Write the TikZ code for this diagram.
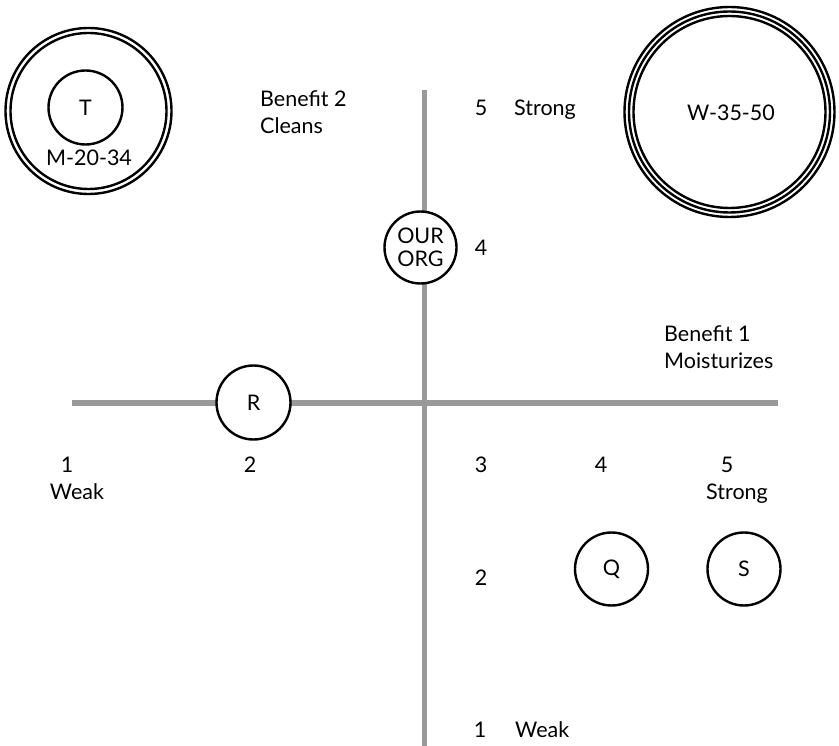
\documentclass[tikz,border=0pt]{standalone}
\usepackage{fontspec}
\setmainfont{Lato}
\begin{document}
\begin{tikzpicture}[x=1pt,y=-1pt,
  axis/.style={line width=5pt,color=black!40},
  ring/.style={circle,draw=black,line width=2.4pt,fill=white,inner sep=0pt},
  lbl/.style={inner sep=0pt,font=\fontsize{21.5}{23}\selectfont},
  lblw/.style={lbl,anchor=base west},
  lblc/.style={lbl,anchor=base}]
\useasboundingbox (0,0) rectangle (839,746);

% axes
\coordinate (vtop) at (424.5,90);
\coordinate (vbot) at (424.5,746);
\coordinate (hleft) at (72,403);
\coordinate (hright) at (778,403);
\draw[axis] (vtop) -- (vbot);
\draw[axis] (hleft) -- (hright);

% segment circles
\node[ring,minimum size=166pt] (touter) at (88.5,111) {};
\node[ring,minimum size=156pt] (tinner) at (88.5,111) {};
\node[ring,minimum size=74pt] (t) at (85.5,107.5) {};
\node[lbl] at (t) {T};
\node[lbl] (tlabel) at (89,158) {M-20-34};

\node[ring,minimum size=210pt] (wa) at (729.5,112) {};
\node[ring,minimum size=201pt] (wb) at (729.5,112) {};
\node[ring,minimum size=192pt] (wc) at (729.5,112) {};
\node[lbl] (w) at (731,113) {W-35-50};

\node[ring,minimum size=72pt,lbl,align=center,font=\fontsize{21.5}{23}\selectfont] (org) at (420.5,247.5) {OUR\\ORG};
\node[ring,minimum size=74pt,lbl] (r) at (253.5,402.5) {R};
\node[ring,minimum size=73pt,lbl] (q) at (611.5,569) {Q};
\node[ring,minimum size=73pt,lbl] (s) at (744,569) {S};

% vertical axis labels
\node[lblw] (ben2) at (260,107) {Benefit 2};
\node[lblw] (cleans) at (260,134) {Cleans};
\node[lblc] (v5) at (481,116) {5};
\node[lblw] (vstrong) at (514,116) {Strong};
\node[lblc] (v4) at (481,256) {4};
\node[lblc] (v3) at (481,472) {3};
\node[lblc] (v2) at (481,585) {2};
\node[lblc] (v1) at (480,737) {1};
\node[lblw] (vweak) at (515,737) {Weak};

% horizontal axis labels
\node[lblw] (ben1) at (664,342) {Benefit 1};
\node[lblw] (moist) at (664,369) {Moisturizes};
\node[lblc] (h1) at (67,472) {1};
\node[lblc] (hweak) at (77,499) {Weak};
\node[lblc] (h2) at (250,472) {2};
\node[lblc] (h4) at (601,472) {4};
\node[lblc] (h5) at (727,472) {5};
\node[lblc] (hstrong) at (737,499) {Strong};
\end{tikzpicture}
\end{document}
